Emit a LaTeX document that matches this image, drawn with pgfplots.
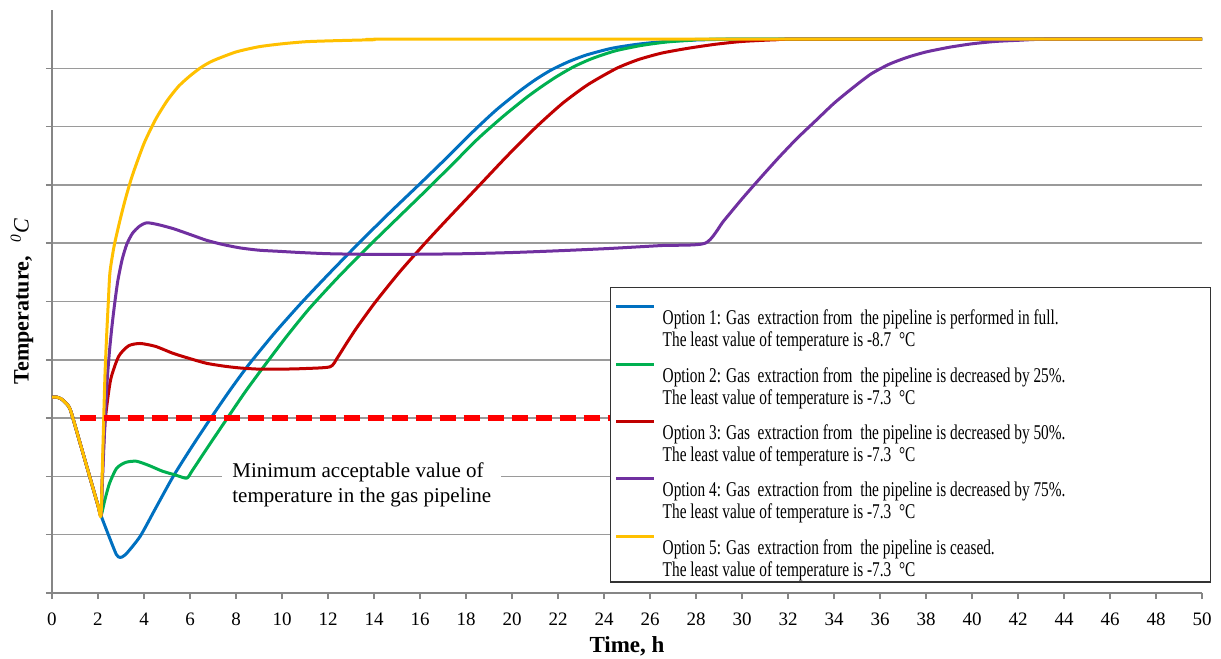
\documentclass[border=0pt]{standalone}
\usepackage{fontspec}
\setmainfont{Liberation Serif}
\newfontfamily\legfont{Liberation Serif}[FakeStretch=0.73]
\usepackage{pgfplots}
\pgfplotsset{compat=1.18}
\definecolor{c1}{HTML}{0070C0}
\definecolor{c2}{HTML}{00B050}
\definecolor{c3}{HTML}{C00000}
\definecolor{c4}{HTML}{7030A0}
\definecolor{c5}{HTML}{FFC000}
\definecolor{axisgray}{HTML}{868686}
\definecolor{gridgray}{HTML}{9A9A9A}
\newcommand{\legtab}[2]{\parbox[b]{272bp}{\strut#1\\\strut#2}}
\begin{document}
\begin{tikzpicture}
\begin{axis}[
  scale only axis, width=575bp, height=291.5bp,
  xmin=0, xmax=50, ymin=0, ymax=10,
  axis lines*=left,
  axis line style={draw=axisgray, line width=0.75bp},
  xtick={0,2,...,50}, ytick={0,1,...,9}, yticklabels={},
  tick align=outside, major tick length=3bp,
  tick style={draw=axisgray, line width=0.75bp},
  ymajorgrids, grid style={draw=gridgray, line width=0.75bp},
  /pgf/number format/assume math mode=true,
  ticklabel style={font=\fontsize{9.5bp}{10bp}\selectfont},
  xticklabel style={anchor=north, yshift=-3.5bp},
  xlabel={\bfseries Time, h},
  every axis x label/.style={at={(axis description cs:0.5,0)}, anchor=center, yshift=-26.5bp, font=\fontsize{11.5bp}{12bp}\selectfont},
  ylabel={{\bfseries Temperature,}\hspace{7bp}{\itshape\textsuperscript{0}C}},
  every axis y label/.style={at={(axis description cs:-0.0261,0.5)}, rotate=90, anchor=center, font=\fontsize{11bp}{12bp}\selectfont},
  legend style={at={(axis cs:24.26,5.25)}, anchor=north west, draw=black!80, line width=0.75bp, fill=white,
    inner xsep=2bp, inner ysep=1.5bp, row sep=6.45bp, column sep=3.5bp,
    font=\legfont\fontsize{10.5bp}{11bp}\selectfont, cells={anchor=base west}, nodes={inner sep=0pt}},
  legend image code/.code={\draw[#1, line width=1.5bp] (0bp,20bp) -- (19bp,20bp);},
  every axis plot/.append style={line width=1.5bp, line join=round, smooth, tension=0.4},
]
\coordinate (sw) at (rel axis cs:0,0);
\coordinate (ne) at (rel axis cs:1,1);
% Option 1
\addplot[c1] coordinates {(0,3.36)(0.2,3.36)(0.4,3.33)(0.6,3.26)(0.8,3.14)(1.2,2.6)(1.6,2.05)(2.0,1.5)(2.13,1.33)
 (2.5,0.95)(2.8,0.66)(2.96,0.61)(3.2,0.66)(3.83,0.97)(4.5,1.45)(5.27,2.0)(6.1,2.52)(6.94,3.02)(7.76,3.49)(8.58,3.93)(9.7,4.47)(10.85,4.98)(12.1,5.5)(13.39,6.02)(14.7,6.53)(16.0,7.02)(17.2,7.48)(18.32,7.92)(19.3,8.28)(20.3,8.6)(21.0,8.8)(21.7,8.97)(22.5,9.12)(23.25,9.23)(24.3,9.34)(25.4,9.41)(26.5,9.455)(27.6,9.48)(29,9.495)(31,9.5)(50,9.5)};
\addlegendentry{\legtab{\rule{0pt}{17bp}Option 1: Gas \ extraction from \ the pipeline is performed in full.}{The least value of temperature is -8.7 \ \textdegree C}}
% Option 2
\addplot[c2] coordinates {(0,3.36)(0.2,3.36)(0.4,3.33)(0.6,3.26)(0.8,3.14)(1.2,2.6)(1.6,2.05)(2.0,1.5)(2.13,1.33)
 (2.3,1.6)(2.5,1.88)(2.81,2.14)(3.2,2.24)(3.67,2.26)(4.2,2.19)(4.8,2.09)(5.4,2.02)(5.86,1.97)(6.1,2.1)(6.72,2.47)(7.59,2.98)(8.4,3.45)(9.2,3.88)(10.2,4.4)(11.19,4.88)(12.45,5.42)(13.75,5.94)(15.05,6.44)(16.25,6.9)(17.45,7.37)(18.54,7.8)(19.6,8.17)(20.6,8.49)(21.3,8.69)(21.95,8.86)(22.7,9.03)(23.5,9.17)(24.5,9.3)(25.6,9.39)(26.7,9.45)(27.8,9.48)(29.5,9.5)(50,9.5)};
\addlegendentry{\legtab{Option 2: Gas \ extraction from \ the pipeline is decreased by 25\%.}{The least value of temperature is -7.3 \ \textdegree C}}
% Option 3
\addplot[c3] coordinates {(0,3.36)(0.2,3.36)(0.4,3.33)(0.6,3.26)(0.8,3.14)(1.2,2.6)(1.6,2.05)(2.0,1.5)(2.13,1.33)
 (2.18,1.9)(2.24,2.5)(2.33,3.03)(2.55,3.66)(2.9,4.06)(3.33,4.24)(3.83,4.28)(4.5,4.23)(5.27,4.11)(6.0,4.02)(6.72,3.94)(7.5,3.89)(8.17,3.86)(9.0,3.84)(10.0,3.84)(11.0,3.85)(12.09,3.88)(12.4,4.03)(12.8,4.28)(13.25,4.55)(14.04,4.98)(15.1,5.5)(16.22,6.0)(17.16,6.4)(18.6,7.0)(19.8,7.5)(21.07,8.0)(22.2,8.4)(23.3,8.72)(24.55,9.0)(25.5,9.15)(26.5,9.26)(27.6,9.34)(28.8,9.41)(30,9.46)(31.5,9.49)(33,9.5)(50,9.5)};
\addlegendentry{\legtab{Option 3: Gas \ extraction from \ the pipeline is decreased by 50\%.}{The least value of temperature is -7.3 \ \textdegree C}}
% Option 4
\addplot[c4] coordinates {(0,3.36)(0.2,3.36)(0.4,3.33)(0.6,3.26)(0.8,3.14)(1.2,2.6)(1.6,2.05)(2.0,1.5)(2.13,1.33)
 (2.2,2.0)(2.3,2.9)(2.4,3.65)(2.5,4.15)(2.6,4.55)(2.72,4.95)(2.86,5.35)(3.05,5.72)(3.25,5.98)(3.5,6.17)(3.8,6.29)(4.12,6.35)(4.6,6.32)(5.27,6.25)(6.0,6.15)(6.72,6.05)(7.4,5.98)(8.17,5.92)(9.0,5.88)(9.9,5.86)(10.8,5.84)(12.0,5.82)(13.5,5.81)(15.7,5.81)(18,5.82)(20,5.84)(22,5.87)(24.26,5.91)(26.5,5.96)(28.4,6.0)(29.2,6.38)(30.0,6.76)(30.8,7.12)(31.6,7.47)(32.4,7.8)(33.2,8.1)(34.0,8.4)(34.8,8.66)(35.6,8.9)(36.4,9.07)(37.2,9.19)(38.0,9.28)(39.0,9.36)(40.0,9.42)(41.0,9.46)(42.0,9.48)(43.5,9.5)(50,9.5)};
\addlegendentry{\legtab{Option 4: Gas \ extraction from \ the pipeline is decreased by 75\%.}{The least value of temperature is -7.3 \ \textdegree C}}
% Option 5
\addplot[c5] coordinates {(0,3.36)(0.2,3.36)(0.4,3.33)(0.6,3.26)(0.8,3.14)(1.2,2.6)(1.6,2.05)(2.0,1.5)(2.13,1.33)
 (2.2,2.3)(2.3,3.7)(2.38,4.45)(2.45,5.0)(2.52,5.5)(2.7,5.95)(2.96,6.4)(3.2,6.77)(3.5,7.17)(4.0,7.71)(4.5,8.12)(5.0,8.44)(5.5,8.69)(6.0,8.87)(6.5,9.02)(7.0,9.13)(8.0,9.28)(9.0,9.37)(10.0,9.42)(11.0,9.455)(12.0,9.47)(14.0,9.49)(16.0,9.5)(50,9.5)};
\addlegendentry{\legtab{Option 5: Gas \ extraction from \ the pipeline is ceased.}{The least value of temperature is -7.3 \ \textdegree C\rule[-5.5bp]{0pt}{5.5bp}}}
% minimum acceptable value
\addplot[red, line width=3.3bp, dash pattern=on 8bp off 4bp, sharp plot, forget plot] coordinates {(1.2,3)(24.26,3)};
\node[fill=white, inner xsep=5bp, inner ysep=1bp, anchor=west, align=left, font=\fontsize{10.5bp}{12.5bp}\selectfont] at (axis cs:7.39,1.85) {Minimum acceptable value of\\temperature in the gas pipeline};
\end{axis}
\pgfresetboundingbox
\path[use as bounding box] ([xshift=-26bp,yshift=-33bp]sw) rectangle ([xshift=9.5bp,yshift=5bp]ne);
\end{tikzpicture}
\end{document}
